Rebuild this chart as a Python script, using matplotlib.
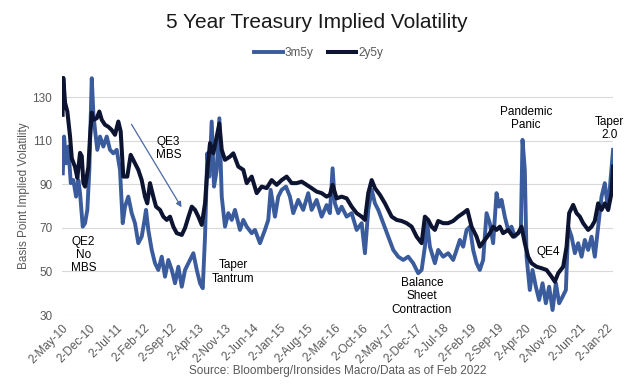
import numpy as np
import pandas as pd
import matplotlib
matplotlib.use("Agg")
import matplotlib.pyplot as plt

plt.rcParams['font.family'] = ['Liberation Sans', 'DejaVu Sans']

# ---- datos (x en anios decimales, y en pb de volatilidad) ----
t_2y5y = [2010.344, 2010.359, 2010.397, 2010.446, 2010.504, 2010.541, 2010.611, 2010.660, 2010.718, 2010.755,
          2010.789, 2010.825, 2010.896, 2010.932, 2010.969, 2011.003, 2011.076, 2011.131, 2011.183, 2011.253,
          2011.324, 2011.397, 2011.467, 2011.538, 2011.589, 2011.645, 2011.730, 2011.803, 2011.895, 2011.966,
          2012.039, 2012.109, 2012.158, 2012.216, 2012.287, 2012.345, 2012.430, 2012.501, 2012.574, 2012.644,
          2012.715, 2012.788, 2012.895, 2012.965, 2013.036, 2013.109, 2013.179, 2013.250, 2013.323, 2013.393,
          2013.442, 2013.500, 2013.571, 2013.644, 2013.700, 2013.751, 2013.821, 2013.928, 2013.999, 2014.106,
          2014.213, 2014.286, 2014.393, 2014.500, 2014.607, 2014.714, 2014.821, 2014.928, 2015.035, 2015.142,
          2015.249, 2015.356, 2015.463, 2015.570, 2015.677, 2015.784, 2015.891, 2015.998, 2016.068, 2016.126,
          2016.212, 2016.319, 2016.426, 2016.533, 2016.640, 2016.747, 2016.817, 2016.888, 2016.961, 2017.031,
          2017.138, 2017.245, 2017.316, 2017.389, 2017.496, 2017.603, 2017.710, 2017.817, 2017.924, 2018.031,
          2018.101, 2018.172, 2018.245, 2018.315, 2018.386, 2018.493, 2018.600, 2018.707, 2018.814, 2018.921,
          2019.011, 2019.101, 2019.208, 2019.278, 2019.385, 2019.492, 2019.563, 2019.636, 2019.706, 2019.777,
          2019.884, 2019.991, 2020.098, 2020.171, 2020.241, 2020.312, 2020.385, 2020.492, 2020.599, 2020.706,
          2020.813, 2020.883, 2020.954, 2021.061, 2021.134, 2021.189, 2021.275, 2021.348, 2021.418, 2021.489,
          2021.596, 2021.669, 2021.739, 2021.810, 2021.883, 2021.953, 2022.024, 2022.096, 2022.130]
v_2y5y = [122, 139, 127.5, 123.5, 112, 102, 98, 93, 104.5, 103,
          90.7, 89, 98, 112, 123, 119.7, 120.4, 123.5, 119.7, 117.4,
          116.5, 115, 112.8, 118.9, 114.3, 93.6, 93.6, 103.6, 99.7, 96.7,
          92, 84.4, 81.3, 90.6, 84.4, 79.8, 78.3, 75.2, 73.7, 75.2,
          70.6, 67.6, 66.8, 70, 75, 79.8, 78.3, 75.2, 71.4, 81.3,
          96.7, 109, 104.3, 112, 118, 105.9, 101.3, 102.8, 104.3, 98.2,
          96.7, 90.6, 93.6, 86, 89, 88.3, 92, 89.8, 92, 93.6,
          90.6, 90.6, 91.3, 89.8, 88.3, 86.7, 86, 84.4, 85.2, 89.8,
          83.6, 84.4, 83.6, 79.8, 76.8, 75.2, 73.7, 86, 92, 88.3,
          85.2, 81.3, 78.3, 75.2, 73.7, 73.2, 72.2, 70.6, 66, 63,
          75.2, 73.7, 70.6, 69.1, 73.2, 72.2, 72.2, 73.2, 75.2, 76.8,
          78.3, 70.6, 66, 61.4, 64.5, 67.6, 70.6, 69.1, 70.6, 67.6,
          69.1, 66, 67.6, 70.6, 63, 56.8, 53.8, 52.2, 51.5, 50.7,
          47.6, 45.3, 49.2, 52.2, 61.4, 76.8, 80.6, 76.8, 75.2, 72.2,
          69.1, 70.6, 73.2, 81.3, 78.3, 81.3, 78.3, 86, 98.2]

t_3m5y = [2010.348, 2010.376, 2010.419, 2010.468, 2010.519, 2010.575, 2010.633, 2010.682, 2010.718, 2010.776,
          2010.825, 2010.874, 2010.917, 2010.969, 2011.003, 2011.039, 2011.088, 2011.146, 2011.217, 2011.290,
          2011.360, 2011.431, 2011.504, 2011.574, 2011.632, 2011.681, 2011.752, 2011.825, 2011.895, 2011.966,
          2012.039, 2012.088, 2012.131, 2012.180, 2012.253, 2012.323, 2012.394, 2012.467, 2012.537, 2012.608,
          2012.681, 2012.751, 2012.822, 2012.895, 2012.965, 2013.036, 2013.143, 2013.216, 2013.286, 2013.344,
          2013.393, 2013.442, 2013.485, 2013.536, 2013.586, 2013.644, 2013.700, 2013.751, 2013.821, 2013.892,
          2013.965, 2014.035, 2014.142, 2014.213, 2014.286, 2014.393, 2014.463, 2014.570, 2014.677, 2014.748,
          2014.799, 2014.891, 2014.962, 2015.035, 2015.127, 2015.212, 2015.283, 2015.390, 2015.497, 2015.604,
          2015.677, 2015.784, 2015.891, 2015.998, 2016.068, 2016.126, 2016.175, 2016.246, 2016.319, 2016.426,
          2016.533, 2016.640, 2016.747, 2016.817, 2016.888, 2016.961, 2017.031, 2017.102, 2017.209, 2017.316,
          2017.423, 2017.530, 2017.637, 2017.744, 2017.851, 2017.958, 2018.031, 2018.101, 2018.150, 2018.208,
          2018.315, 2018.386, 2018.493, 2018.600, 2018.707, 2018.780, 2018.850, 2018.921, 2018.993, 2019.064,
          2019.135, 2019.208, 2019.278, 2019.349, 2019.422, 2019.492, 2019.563, 2019.636, 2019.692, 2019.743,
          2019.813, 2019.884, 2019.957, 2020.027, 2020.098, 2020.156, 2020.192, 2020.241, 2020.278, 2020.348,
          2020.406, 2020.477, 2020.547, 2020.620, 2020.691, 2020.761, 2020.834, 2020.905, 2020.975, 2021.048,
          2021.119, 2021.168, 2021.241, 2021.311, 2021.382, 2021.455, 2021.525, 2021.596, 2021.669, 2021.739,
          2021.810, 2021.883, 2021.953, 2022.024, 2022.075, 2022.130]
v_3m5y = [95.1, 112, 99.7, 107.4, 90.6, 92, 84.4, 92, 86, 70.6,
          72.2, 78.3, 96.7, 138.8, 122.7, 115, 105.9, 112, 107.4, 112,
          105.9, 104.3, 105.9, 96.7, 72.2, 79.8, 84.4, 76.8, 72.2, 63,
          66, 72.2, 78.3, 69.1, 59.9, 53.8, 50.7, 56.8, 47.6, 55.3,
          50.7, 44.6, 52.2, 43, 50.7, 53.8, 58.4, 50.7, 44.6, 42.3,
          66, 104.3, 93.6, 118.9, 89, 96.7, 120.4, 84.4, 70.6, 76.8,
          73.7, 78.3, 69.1, 73.7, 70.6, 67.6, 69.1, 63, 69.1, 73.7,
          87.5, 75.2, 84.4, 87.5, 89, 84.4, 76.8, 82.9, 78.3, 86,
          78.3, 82.9, 75.2, 80.5, 76.8, 97.4, 81.3, 76.8, 79.8, 75.2,
          76.8, 69.1, 72.2, 58.4, 78.3, 87.5, 81.3, 78.3, 72.2, 66,
          59.9, 56.8, 55.3, 56.8, 53.8, 49.2, 50.7, 61.4, 72.2, 61.4,
          53.8, 59.9, 56.8, 58.4, 55.3, 59.9, 64.5, 61.4, 69, 70.6,
          59.9, 53.8, 50.7, 55.3, 76.8, 72.2, 63, 86, 79.8, 82.9,
          75.2, 69.1, 70.6, 66, 67.6, 69.1, 110.5, 96.7, 56.8, 41.5,
          50.7, 43, 36.9, 44.6, 35.4, 43, 32.3, 44.6, 35.4, 38.4,
          41.5, 70.6, 66, 58.4, 63, 56.8, 64.5, 59.9, 66, 56.8,
          70.6, 84.4, 90.6, 78.3, 92, 105.9]

y_ticks = [30, 50, 70, 90, 110, 130]
tick_inicio = "2010-05-02"
n_ticks = 21          # una etiqueta cada 7 meses
fecha_fin = "2022-02-17"

# (texto, anio decimal, valor)
notas = [("QE2\nNo\nMBS", 2010.79, 57.6),
         ("QE3\nMBS", 2012.61, 106.4),
         ("Taper\nTantrum", 2014.00, 49.8),
         ("Balance\nSheet\nContraction", 2018.04, 38.6),
         ("Pandemic\nPanic", 2020.26, 120.4),
         ("QE4", 2020.74, 59.1),
         ("Taper\n2.0", 2022.05, 115.7)]
flecha_desde = (2011.79, 118.7)
flecha_hasta = (2012.92, 78.4)


def anio_a_fecha(a):
    a = np.atleast_1d(a)
    out = []
    for y in a:
        yr = int(y)
        ini = pd.Timestamp(yr, 1, 1)
        fin = pd.Timestamp(yr + 1, 1, 1)
        out.append(ini + (y - yr) * (fin - ini))
    return out


GRIS = "#595959"
AZUL = "#3a5b9c"
NEGRO = "#0c1431"

fig = plt.figure(figsize=(6.34, 3.92), dpi=100)
ax = fig.add_axes([0.0978, 0.1964, 0.8691, 0.6107])

ax.plot(anio_a_fecha(t_3m5y), v_3m5y, color=AZUL, lw=2.8, label="3m5y", solid_joinstyle="round")
ax.plot(anio_a_fecha(t_2y5y), v_2y5y, color=NEGRO, lw=2.9, label="2y5y", solid_joinstyle="round")

ax.set_ylim(30, 140)
ax.set_yticks(y_ticks)
ticks = pd.date_range(tick_inicio, periods=n_ticks, freq=pd.DateOffset(months=7))
ax.set_xlim(pd.Timestamp(tick_inicio), pd.Timestamp(fecha_fin))
ax.set_xticks(ticks)
ax.set_xticklabels([f"{d.day}-{d:%b}-{d:%y}" for d in ticks], rotation=45, ha="right",
                   rotation_mode="anchor")

ax.grid(axis="y", color="#d9d9d9", lw=0.8)
ax.set_axisbelow(True)
for s in ax.spines.values():
    s.set_visible(False)
ax.tick_params(axis="both", length=0, labelsize=8.5, labelcolor=GRIS)
ax.tick_params(axis="y", pad=7)
ax.tick_params(axis="x", pad=5)
ax.set_ylabel("Basis Point Implied Volatility", fontsize=8.5, color=GRIS, labelpad=2)

for txt, a, v in notas:
    ax.text(anio_a_fecha(a)[0], v, txt, ha="center", va="center", fontsize=8.5,
            linespacing=1.15, color="black", clip_on=False)

ax.annotate("", xy=(anio_a_fecha(flecha_hasta[0])[0], flecha_hasta[1]),
            xytext=(anio_a_fecha(flecha_desde[0])[0], flecha_desde[1]),
            arrowprops=dict(arrowstyle="-|>", color="#4b6aa3", lw=0.9, mutation_scale=8))

fig.text(0.5, 1 - 28 / 392, "5 Year Treasury Implied Volatility", ha="center", va="baseline",
         fontsize=15, color="#1a1a1a")
fig.legend(loc="center", bbox_to_anchor=(0.503, 1 - 53 / 392), ncol=2, frameon=False,
           fontsize=8.5, labelcolor=GRIS, handlelength=2.4, handletextpad=0.2, columnspacing=1.2)
fig.text(0.533, 1 - 371 / 392, "Source: Bloomberg/Ironsides Macro/Data as of Feb 2022",
         ha="center", va="center", fontsize=8.5, color=GRIS)

fig.savefig("out.png", dpi=100)
